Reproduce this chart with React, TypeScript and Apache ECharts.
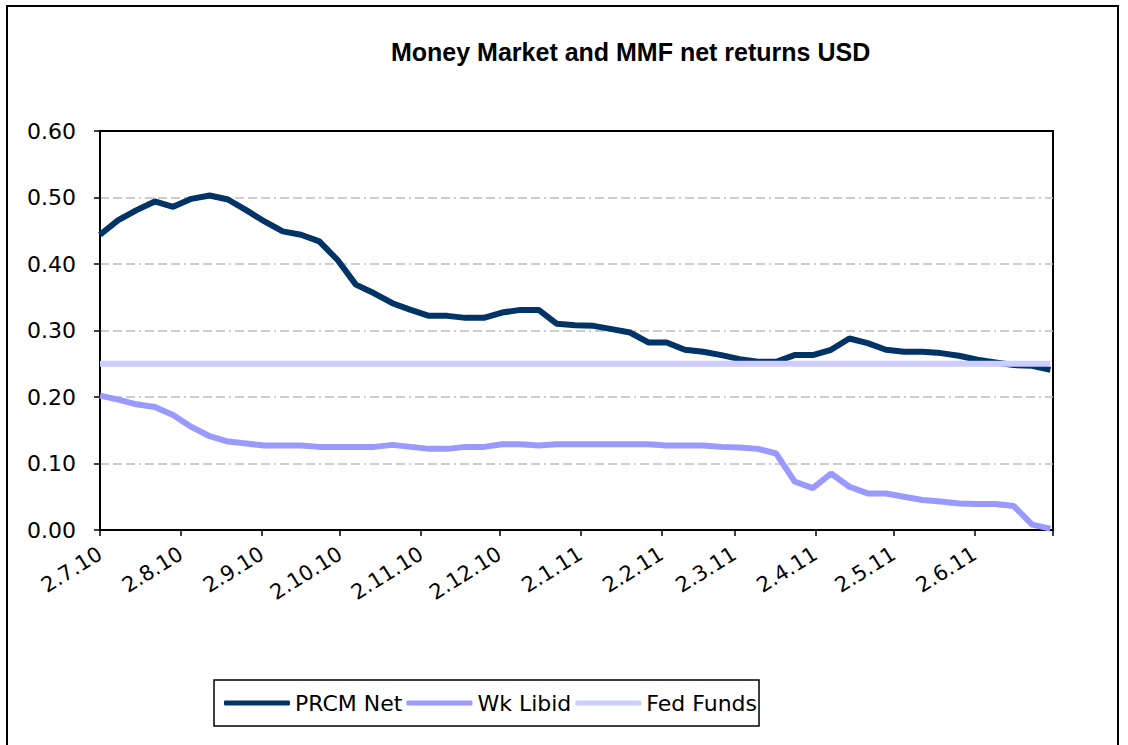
import React, { useEffect, useRef } from "react";
import * as echarts from "echarts";

const weekDates: string[] = [
  "2010-07-02", "2010-07-09", "2010-07-16", "2010-07-23", "2010-07-30",
  "2010-08-06", "2010-08-13", "2010-08-20", "2010-08-27",
  "2010-09-03", "2010-09-10", "2010-09-17", "2010-09-24",
  "2010-10-01", "2010-10-08", "2010-10-15", "2010-10-22", "2010-10-29",
  "2010-11-05", "2010-11-12", "2010-11-19", "2010-11-26",
  "2010-12-03", "2010-12-10", "2010-12-17", "2010-12-24", "2010-12-31",
  "2011-01-07", "2011-01-14", "2011-01-21", "2011-01-28",
  "2011-02-04", "2011-02-11", "2011-02-18", "2011-02-25",
  "2011-03-04", "2011-03-11", "2011-03-18", "2011-03-25",
  "2011-04-01", "2011-04-08", "2011-04-15", "2011-04-22", "2011-04-29",
  "2011-05-06", "2011-05-13", "2011-05-20", "2011-05-27",
  "2011-06-03", "2011-06-10", "2011-06-17", "2011-06-24", "2011-07-01",
];

const prcmNet: number[] = [
  0.444, 0.466, 0.481, 0.494, 0.486, 0.498, 0.503, 0.497, 0.481, 0.464,
  0.449, 0.444, 0.434, 0.406, 0.369, 0.356, 0.341, 0.331, 0.322, 0.322,
  0.319, 0.319, 0.327, 0.331, 0.331, 0.310, 0.308, 0.307, 0.302, 0.297,
  0.282, 0.282, 0.271, 0.268, 0.263, 0.257, 0.253, 0.253, 0.263, 0.263,
  0.271, 0.288, 0.281, 0.271, 0.268, 0.268, 0.266, 0.262, 0.256, 0.252,
  0.248, 0.247, 0.241,
];

const wkLibid: number[] = [
  0.202, 0.196, 0.189, 0.185, 0.173, 0.155, 0.141, 0.133, 0.130, 0.127,
  0.127, 0.127, 0.125, 0.125, 0.125, 0.125, 0.128, 0.125, 0.122, 0.122,
  0.125, 0.125, 0.129, 0.129, 0.127, 0.129, 0.129, 0.129, 0.129, 0.129,
  0.129, 0.127, 0.127, 0.127, 0.125, 0.124, 0.122, 0.115, 0.073, 0.063,
  0.085, 0.065, 0.055, 0.055, 0.050, 0.045, 0.043, 0.040, 0.039, 0.039,
  0.036, 0.008, 0.002,
];

const fedFunds: number[] = [
  0.25, 0.25, 0.25, 0.25, 0.25, 0.25, 0.25, 0.25, 0.25, 0.25,
  0.25, 0.25, 0.25, 0.25, 0.25, 0.25, 0.25, 0.25, 0.25, 0.25,
  0.25, 0.25, 0.25, 0.25, 0.25, 0.25, 0.25, 0.25, 0.25, 0.25,
  0.25, 0.25, 0.25, 0.25, 0.25, 0.25, 0.25, 0.25, 0.25, 0.25,
  0.25, 0.25, 0.25, 0.25, 0.25, 0.25, 0.25, 0.25, 0.25, 0.25,
  0.25, 0.25, 0.25,
];

const tickDates: string[] = [
  "2010-07-02", "2010-08-02", "2010-09-02", "2010-10-02", "2010-11-02",
  "2010-12-02", "2011-01-02", "2011-02-02", "2011-03-02", "2011-04-02",
  "2011-05-02", "2011-06-02", "2011-07-02",
];
const tickLabels: string[] = [
  "2.7.10", "2.8.10", "2.9.10", "2.10.10", "2.11.10", "2.12.10",
  "2.1.11", "2.2.11", "2.3.11", "2.4.11", "2.5.11", "2.6.11",
];

const seriesNames = ["PRCM Net", "Wk Libid", "Fed Funds"];
const seriesColors = ["#003366", "#9999FF", "#CCCCFF"];

const ts = (s: string) => {
  const [y, m, d] = s.split("-").map(Number);
  return Date.UTC(y, m - 1, d);
};
const DAY = 86400000;
const startTs = ts(tickDates[0]);
const dayOf = (s: string) => Math.round((ts(s) - startTs) / DAY);

export default function App() {
  const ref = useRef<HTMLDivElement>(null);
  useEffect(() => {
    if (!ref.current) return;
    const chart = echarts.init(ref.current, null, { renderer: "svg" });
    const tickDays = tickDates.map(dayOf);
    const labelDays = tickDays.slice(0, tickLabels.length);
    const allSeries = [prcmNet, wkLibid, fedFunds];
    chart.setOption({
      animation: false,
      backgroundColor: "#fff",
      title: {
        text: "Money Market and MMF net returns USD",
        left: 386,
        top: 34,
        textStyle: {
          fontFamily: "Liberation Sans, Arial, sans-serif",
          fontWeight: "bold",
          fontSize: 25,
          color: "#000",
        },
      },
      graphic: [
        {
          type: "rect",
          shape: { x: 7, y: 6, width: 1111, height: 800 },
          style: { fill: "none", stroke: "#000", lineWidth: 2 },
          silent: true,
          z: -1,
        },
      ],
      legend: {
        left: 214,
        top: 680,
        icon: "roundRect",
        itemWidth: 66,
        itemHeight: 5,
        itemGap: 4,
        padding: [12, 2, 12, 10],
        borderColor: "#000",
        borderWidth: 1.5,
        textStyle: {
          fontFamily: "DejaVu Sans, sans-serif",
          fontSize: 22,
          color: "#000",
        },
        data: seriesNames,
      },
      grid: {
        left: 100,
        right: 75,
        top: 131,
        bottom: 215,
        show: true,
        borderColor: "#000",
        borderWidth: 2,
        containLabel: false,
      },
      xAxis: {
        type: "value",
        min: tickDays[0],
        max: tickDays[tickDays.length - 1],
        axisLine: { show: true, lineStyle: { color: "#000", width: 2 } },
        axisTick: {
          show: true,
          customValues: tickDays,
          length: 6,
          lineStyle: { color: "#000", width: 1.5 },
        },
        axisLabel: {
          customValues: labelDays,
          rotate: 32,
          margin: 22,
          fontFamily: "DejaVu Sans, sans-serif",
          fontSize: 21,
          color: "#000",
          formatter: (v: number) => {
            const i = labelDays.indexOf(v);
            return i >= 0 ? tickLabels[i] : "";
          },
        },
        splitLine: { show: false },
      },
      yAxis: {
        type: "value",
        min: 0,
        max: 0.6,
        interval: 0.1,
        axisLine: { show: true, lineStyle: { color: "#000", width: 2 } },
        axisTick: {
          show: true,
          length: 6,
          lineStyle: { color: "#000", width: 1.5 },
        },
        axisLabel: {
          margin: 24,
          fontFamily: "DejaVu Sans, sans-serif",
          fontSize: 22,
          color: "#000",
          formatter: (v: number) => v.toFixed(2),
        },
        splitLine: {
          show: true,
          showMinLine: false,
          showMaxLine: false,
          lineStyle: {
            color: "#BDBDBD",
            width: 1.5,
            type: [9, 4, 9, 4, 9, 4, 2, 4],
          },
        },
      },
      series: seriesNames.map((name, k) => ({
        name,
        type: "line",
        symbol: "none",
        showSymbol: false,
        color: seriesColors[k],
        lineStyle: { width: 6, color: seriesColors[k] },
        data: weekDates.map((d, i) => [dayOf(d), allSeries[k][i]]),
      })),
    });
    return () => chart.dispose();
  }, []);
  return (
    <div
      ref={ref}
      style={{
        position: "fixed",
        left: 0,
        top: 0,
        width: 1128,
        height: 745,
        background: "#fff",
      }}
    />
  );
}
